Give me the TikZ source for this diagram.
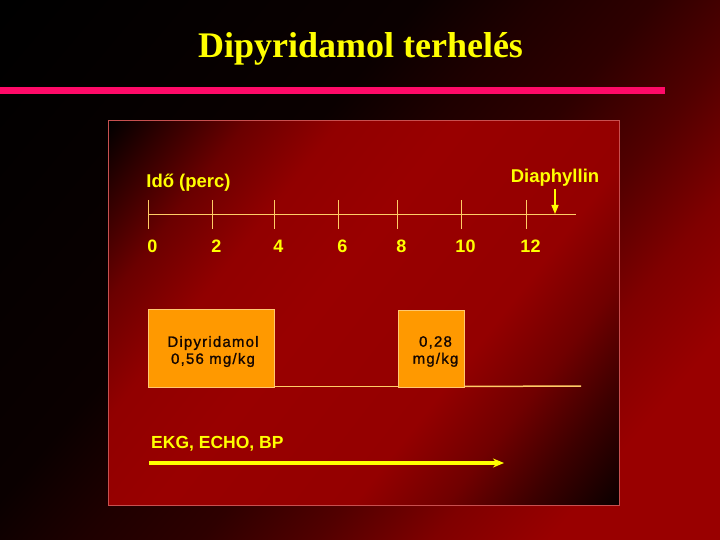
\documentclass[tikz,border=0pt]{standalone}
\usepackage{fontspec}
\setmainfont{Liberation Serif}
\newfontfamily\arial{Liberation Sans}
\newfontfamily\arialsp[LetterSpace=8,FakeBold=1.1]{Liberation Sans}
\usetikzlibrary{arrows.meta}
\definecolor{ttyellow}{HTML}{FFFF00}
\definecolor{pinkbar}{HTML}{FF0A68}
\definecolor{boxorange}{HTML}{FF9900}
\definecolor{boxedge}{HTML}{FFC870}
\definecolor{baseorange}{HTML}{FFCC66}
\definecolor{paneledge}{HTML}{C85050}
\definecolor{boxtext}{HTML}{140600}
\pgfdeclarehorizontalshading{slidebg}{100bp}{color(0bp)=(black); color(15bp)=(black); color(40bp)=(red!4!black); color(47bp)=(red!12!black); color(54bp)=(red!18!black); color(61bp)=(red!32!black); color(68bp)=(red!50!black); color(75bp)=(red!60!black); color(100bp)=(red!60!black)}
\pgfdeclarehorizontalshading{panelbg}{100bp}{color(0bp)=(black); color(15bp)=(black); color(20bp)=(red!18!black); color(27bp)=(red!42!black); color(35bp)=(red!57!black); color(45bp)=(red!60!black); color(62bp)=(red!58!black); color(70bp)=(red!44!black); color(77bp)=(red!24!black); color(85bp)=(red!4!black); color(100bp)=(red!4!black)}
\tikzset{
  ylabel/.style={text=ttyellow, font=\arial\bfseries\fontsize{18.5}{20}\selectfont, inner sep=0pt},
  ticklbl/.style={text=ttyellow, font=\arial\bfseries\fontsize{18}{20}\selectfont, inner sep=0pt},
  axisline/.style={draw=baseorange, line width=1pt},
  dosebox/.style={fill=boxorange, draw=boxedge, line width=1pt, inner sep=0pt},
  boxlbl/.style={text=boxtext, font=\arialsp\fontsize{15}{17}\selectfont, align=center, inner sep=0pt},
}
\begin{document}
\begin{tikzpicture}[x=1pt,y=-1pt]
\useasboundingbox (0,0) rectangle (720,540);
% background
\shade[shading=slidebg, shading angle=-40] (0,0) rectangle (720,540);
% title
\node[text=ttyellow, font=\bfseries\fontsize{36}{40}\selectfont, anchor=base, inner sep=0pt] (title) at (360.5,58) {Dipyridamol terhelés};
% pink bar
\coordinate (barL) at (0,90.5);
\coordinate (barR) at (665,90.5);
\draw[pinkbar, line width=7pt] (barL) -- (barR);
% panel
\shade[shading=panelbg, shading angle=-38] (108,121) rectangle (619.5,505);
\draw[paneledge, line width=1pt] (108,121) rectangle (619.5,505);
% axis
\coordinate (axL) at (148,215);
\coordinate (axR) at (576,215);
\draw[axisline] (axL) -- (axR);
\foreach \i/\x/\v in {0/148/0, 1/212/2, 2/274/4, 3/338/6, 4/397/8, 5/461/10, 6/526/12}{
  \coordinate (tt\i) at (\x,200);
  \coordinate (tb\i) at (\x,229);
  \draw[axisline] (tt\i) -- (tb\i);
  \node[ticklbl] (lab\i) at (\x+4.5,246) {\v};
}
\node[ylabel] (ido) at (188.5,183) {Idő (perc)};
\node[ylabel] (diaph) at (555,178) {Diaphyllin};
\coordinate (diaA) at (555,189);
\coordinate (diaB) at (555,214);
\draw[ttyellow, line width=1.5pt, -{Triangle[length=9pt,width=7pt]}] (diaA) -- (diaB);
% dose boxes
\node[dosebox, minimum width=126pt, minimum height=78pt] (box1) at (211,348) {};
\node[boxlbl] (txt1) at (213,351.5) {Dipyridamol\\0,56 mg/kg};
\node[dosebox, minimum width=66pt, minimum height=77pt] (box2) at (431,348.5) {};
\node[boxlbl] (txt2) at (435.5,351.5) {0,28\\mg/kg};
\coordinate (base1) at (581,386);
\draw[axisline, line width=1.5pt] ([yshift=1pt]box1.south east) -- ([yshift=1pt]box2.south west);
\draw[axisline, line width=1.5pt] ([yshift=1pt]box2.south east) -- (base1);
% monitoring arrow
\node[text=ttyellow, font=\arial\bfseries\fontsize{17.5}{20}\selectfont, anchor=west, inner sep=0pt] (ekg) at (151,444) {EKG, ECHO, BP};
\coordinate (arL) at (149,463);
\coordinate (arR) at (504,463);
\draw[ttyellow, line width=3.2pt, -{Stealth[length=11pt,width=9pt]}] (arL) -- (arR);
\end{tikzpicture}
\end{document}
